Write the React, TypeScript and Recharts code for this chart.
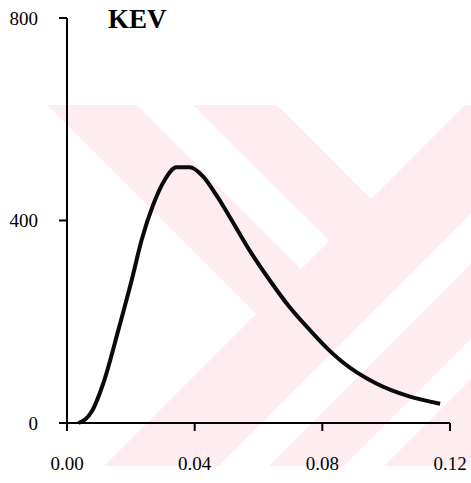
import React from "react";
import { LineChart, Line, XAxis, YAxis } from "recharts";

// x (dimensionless) and KEV values
const xValues = [0.0036, 0.0078, 0.0114, 0.0161, 0.0203, 0.0234, 0.027, 0.0306, 0.0343, 0.0384, 0.0426, 0.0468, 0.0509, 0.0571, 0.0634, 0.0696, 0.0769, 0.0816, 0.0862, 0.0966, 0.107, 0.1169];
const kevValues = [0, 23, 79, 184, 283, 362, 431, 480, 505, 505, 487, 450, 408, 342, 283, 230, 178, 147, 121, 79, 53, 38];
const xTicks = [0, 0.04, 0.08, 0.12];
const yTicks = [0, 400, 800];
const title = "KEV";

const data = xValues.map((x, i) => ({ x, kev: kevValues[i] }));

const FONT = "'Liberation Serif', 'Times New Roman', serif";
const PINK = "#fdedf0";

function Watermark() {
  return (
    <svg width={471} height={483} style={{ position: "absolute", left: 0, top: 0 }}>
      <rect x={47} y={105} width={424} height={361} fill={PINK} />
      <polygon points="47,105 256,314 104,466 47,466" fill="#fff" />
      <polygon points="136.7,105 193.3,105 329.2,240.8 300.9,269.2" fill="#fff" />
      <polygon points="276.7,105 465,105 370.9,199.2" fill="#fff" />
      <polygon points="219,466 269,466 471,264 471,214" fill="#fff" />
      <polygon points="344,466 384,466 471,379 471,339" fill="#fff" />
    </svg>
  );
}

export default function App() {
  return (
    <div style={{ position: "absolute", left: 0, top: 0, width: 471, height: 483, background: "#fff" }}>
      <Watermark />
      <div style={{ position: "absolute", left: 0, top: 0 }}>
        <LineChart width={471} height={483} data={data} margin={{ top: 18, right: 21, left: 0, bottom: 0 }}>
          <XAxis
            type="number"
            dataKey="x"
            domain={[0, 0.12]}
            ticks={xTicks}
            tickFormatter={(v: number) => v.toFixed(2)}
            height={60}
            tickSize={8}
            tickMargin={26}
            stroke="#000"
            strokeWidth={2}
            tick={{ fill: "#000", fontFamily: FONT, fontSize: 19 }}
            allowDataOverflow
          />
          <YAxis
            type="number"
            domain={[0, 800]}
            ticks={yTicks}
            width={67}
            tickSize={8}
            tickMargin={21}
            stroke="#000"
            strokeWidth={2}
            tick={{ fill: "#000", fontFamily: FONT, fontSize: 19 }}
          />
          <Line
            type="monotone"
            dataKey="kev"
            stroke="#0a0a0a"
            strokeWidth={4}
            dot={false}
            isAnimationActive={false}
          />
          <text x={108} y={28} fontFamily={FONT} fontWeight="bold" fontSize={27} fill="#000">
            {title}
          </text>
        </LineChart>
      </div>
    </div>
  );
}
